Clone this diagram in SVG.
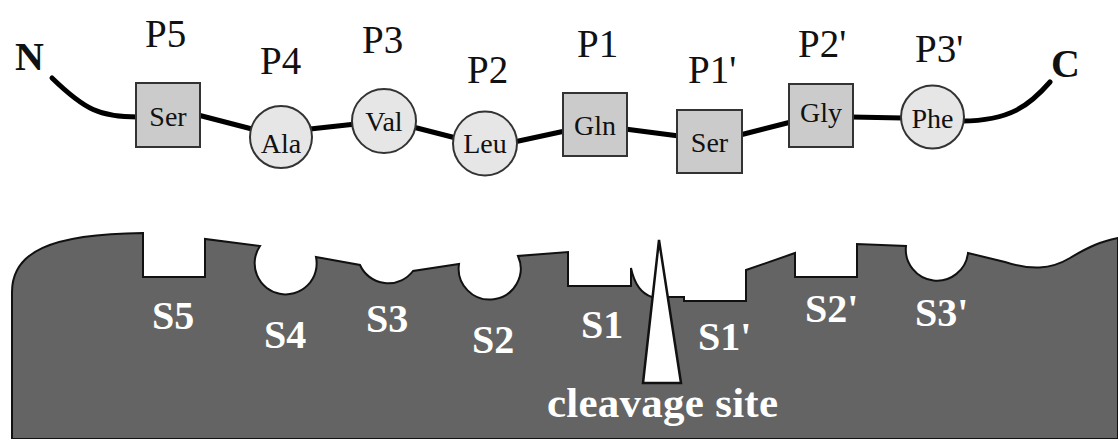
<svg xmlns="http://www.w3.org/2000/svg" width="1118" height="439" viewBox="0 0 1118 439">
<style>
text{font-family:'Liberation Serif','Times New Roman','DejaVu Serif',serif}
.lbl{font-size:39px;fill:#111}
.end{font-size:40px;font-weight:bold;fill:#111}
.res{font-size:28px;fill:#111;text-anchor:middle}
.site{font-size:40px;font-weight:bold;fill:#fff}
.sq{fill:#cbcbcb;stroke:#333;stroke-width:2}
.ci{fill:#e6e6e6;stroke:#333;stroke-width:2}
.bond{fill:none;stroke:#000;stroke-width:5;stroke-linecap:round}
</style>
<rect width="1118" height="439" fill="#fff"/>
<g id="enzyme">
<path d="M 12 439 L 12 292 C 12 252 50 234 143 233 L 143 277 L 205 277 L 205 239 L 260 246 A 31 31 0 1 0 316 257 L 360 265 A 31 31 0 0 0 413 271 L 459 264 A 31 31 0 1 0 518 256 L 568 252 L 568 286 L 631 286 L 631 268 Q 636 292 652 297 L 684 297 L 684 301 L 746 301 L 746 270 L 795 253 L 795 277 L 857 277 L 857 244 L 906 246 A 31 31 0 0 0 968 253 L 1005 262 C 1030 270 1050 270 1070 258 S 1100 242 1118 238 L 1118 439 Z" fill="#646464" stroke="#111" stroke-width="2"/>
<path d="M 659 240 L 643 383 L 681 383 Z" fill="#fff" stroke="#111" stroke-width="2.5"/>
<text class="site" x="152" y="329" font-family="Liberation Serif, serif">S5</text>
<text class="site" x="264" y="348" font-family="Liberation Serif, serif">S4</text>
<text class="site" x="366" y="332" font-family="Liberation Serif, serif">S3</text>
<text class="site" x="472" y="353" font-family="Liberation Serif, serif">S2</text>
<text class="site" x="581" y="338" font-family="Liberation Serif, serif">S1</text>
<text class="site" x="698" y="350" font-family="Liberation Serif, serif">S1'</text>
<text class="site" x="805" y="322" font-family="Liberation Serif, serif">S2'</text>
<text class="site" x="915" y="326" font-family="Liberation Serif, serif">S3'</text>
<text class="site" x="547" y="417" font-family="Liberation Serif, serif" style="font-size:43px" textLength="231">cleavage site</text>
</g>
<g id="connectors">
<path class="bond" d="M 52 78 C 85 110 100 117 138 117"/>
<path class="bond" d="M 198 115 L 252 129"/>
<path class="bond" d="M 310 129 L 356 124"/>
<path class="bond" d="M 413 127 L 456 138"/>
<path class="bond" d="M 514 142 L 565 131"/>
<path class="bond" d="M 625 129 L 679 136"/>
<path class="bond" d="M 740 135 L 791 122"/>
<path class="bond" d="M 851 117 L 903 118"/>
<path class="bond" d="M 962 121 C 1010 121 1030 105 1050 82"/>
</g>
<g id="N"><text class="end" x="15" y="70">N</text></g>
<g id="C"><text class="end" x="1051" y="77">C</text></g>
<g id="P5"><rect class="sq" x="136" y="83" width="64" height="64"/><text class="res" x="168" y="126">Ser</text><text class="lbl" x="145" y="47">P5</text></g>
<g id="P4"><circle class="ci" cx="281" cy="137" r="31"/><text class="res" x="281" y="153">Ala</text><text class="lbl" x="260" y="74">P4</text></g>
<g id="P3"><circle class="ci" cx="384" cy="121" r="32"/><text class="res" x="384" y="131">Val</text><text class="lbl" x="362" y="53">P3</text></g>
<g id="P2"><circle class="ci" cx="485" cy="143.5" r="32"/><text class="res" x="485" y="153">Leu</text><text class="lbl" x="467" y="83">P2</text></g>
<g id="P1"><rect class="sq" x="563" y="93" width="64" height="63"/><text class="res" x="595" y="135">Gln</text><text class="lbl" x="577" y="57">P1</text></g>
<g id="P1p"><rect class="sq" x="677" y="110" width="65" height="63"/><text class="res" x="709.5" y="152">Ser</text><text class="lbl" x="688" y="83">P1'</text></g>
<g id="P2p"><rect class="sq" x="789" y="84" width="64" height="63"/><text class="res" x="821" y="122">Gly</text><text class="lbl" x="798" y="57">P2'</text></g>
<g id="P3p"><circle class="ci" cx="932.5" cy="117" r="31.5"/><text class="res" x="932.5" y="128">Phe</text><text class="lbl" x="915" y="62">P3'</text></g>
</svg>
